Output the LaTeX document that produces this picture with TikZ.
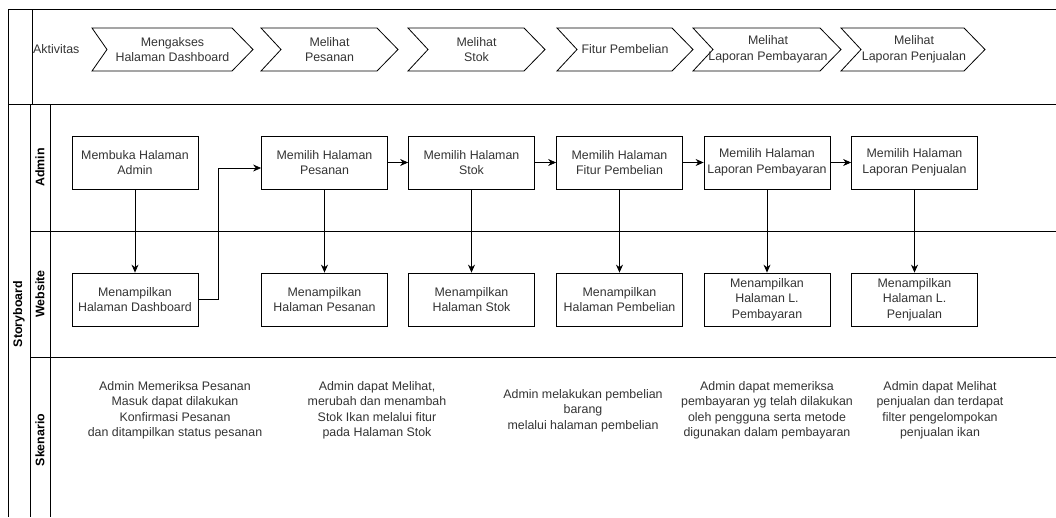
\documentclass[tikz,border=0pt]{standalone}
\usepackage{fontspec}
\setmainfont{Liberation Sans}
\usepackage{tikz}
\usetikzlibrary{arrows.meta,positioning,calc}
\newcommand{\diafont}{\fontsize{12.4}{15.5}\selectfont}
\tikzset{stepbox/.style={draw=black, line width=0.8pt, minimum width=126pt, minimum height=53pt, inner sep=0pt, align=center, text=black!80, font=\diafont},
%text inside the chevrons and the scenario lines
plaintext/.style={align=center, inner sep=0pt, text=black!80, font=\diafont},
lanelabel/.style={rotate=90, inner sep=0pt, font=\diafont\bfseries},
chevron/.style={draw=black, line width=0.8pt, line join=miter}}

\begin{document}
\begin{tikzpicture}[x=1pt,y=-1pt, >={Stealth[length=8pt,width=7pt]}]
  \useasboundingbox (0,0) rectangle (1056,517);

  % frame and lanes
  \draw[line width=0.8pt] (1056,9) -- (8,9) -- (8,517);
  \draw[line width=0.8pt] (8,104) -- (1056,104);
  \draw[line width=0.8pt] (32,9) -- (32,104);
  \draw[line width=0.8pt] (30,104) -- (30,517);
  \draw[line width=0.8pt] (50,104) -- (50,517);
  \draw[line width=0.8pt] (30,231) -- (1056,231);
  \draw[line width=0.8pt] (30,357) -- (1056,357);

  \node[plaintext, anchor=west] (akt) at (33,49.5) {Aktivitas};
  \node[lanelabel] (sb) at (19,314) {Storyboard};
  \node[lanelabel] (ladmin) at (40,167.5) {Admin};
  \node[lanelabel] (lweb) at (40,294) {Website};
  \node[lanelabel] (lsken) at (40,440) {Skenario};

  % aktivitas
  \draw[chevron] (92,28) -- (232,28) -- (253,49.5) -- (232,71) -- (92,71) -- (107,49.5) -- cycle;
  \node[plaintext] (act1) at (172.5,49.5) {Mengakses\\Halaman Dashboard};

  \draw[chevron] (261,28) -- (377,28) -- (398,49.5) -- (377,71) -- (261,71) -- (281,49.5) -- cycle;
  \node[plaintext] (act2) at (329.5,49.5) {Melihat\\Pesanan};

  \draw[chevron] (408,28) -- (524,28) -- (545,49.5) -- (524,71) -- (408,71) -- (428,49.5) -- cycle;
  \node[plaintext] (act3) at (476.5,49.5) {Melihat\\Stok};

  \draw[chevron] (557,28) -- (672,28) -- (693,49.5) -- (672,71) -- (557,71) -- (577,49.5) -- cycle;
  \node[plaintext] (act4) at (625,49.5) {Fitur Pembelian};

  \draw[chevron] (693,28) -- (820,28) -- (841,49.5) -- (820,71) -- (693,71) -- (713,49.5) -- cycle;
  \node[plaintext] (act5) at (768,49.5) {Melihat\\Laporan Pembayaran};

  \draw[chevron] (841,28) -- (964,28) -- (985,49.5) -- (964,71) -- (841,71) -- (861,49.5) -- cycle;
  \node[plaintext] (act6) at (914,49.5) {Melihat\\Laporan Penjualan};

  % admin
  \node[stepbox] (adm1) at (135,162.5) {Membuka Halaman\\Admin};
  \node[stepbox] (adm2) at (324.5,162.5) {Memilih Halaman\\Pesanan};
  \node[stepbox] (adm3) at (471.5,162.5) {Memilih Halaman\\Stok};
  \node[stepbox] (adm4) at (619.5,162.5) {Memilih Halaman\\Fitur Pembelian};
  \node[stepbox] (adm5) at (767,162.5) {Memilih Halaman\\Laporan Pembayaran};
  \node[stepbox] (adm6) at (914.5,162.5) {Memilih Halaman\\Laporan Penjualan};

  % website
  \node[stepbox] (web1) at (135,299.5) {Menampilkan\\Halaman Dashboard};
  \node[stepbox] (web2) at (324.5,299.5) {Menampilkan\\Halaman Pesanan};
  \node[stepbox] (web3) at (471.5,299.5) {Menampilkan\\Halaman Stok};
  \node[stepbox] (web4) at (619.5,299.5) {Menampilkan\\Halaman Pembelian};
  \node[stepbox] (web5) at (767,299.5) {Menampilkan\\Halaman L.\\Pembayaran};
  \node[stepbox] (web6) at (914.5,299.5) {Menampilkan\\Halaman L.\\Penjualan};

  \draw[->, line width=0.8pt] (adm1) -- (web1);
  \draw[->, line width=0.8pt] (adm2) -- (web2);
  \draw[->, line width=0.8pt] (adm3) -- (web3);
  \draw[->, line width=0.8pt] (adm4) -- (web4);
  \draw[->, line width=0.8pt] (adm5) -- (web5);
  \draw[->, line width=0.8pt] (adm6) -- (web6);

  \coordinate (bend) at (218,168);
  \draw[->, line width=0.8pt] (web1.east) -| (bend) -- (bend -| adm2.west);

  \draw[->, line width=0.8pt] (adm2) -- (adm3);
  \draw[->, line width=0.8pt] (adm3) -- (adm4);
  \draw[->, line width=0.8pt] (adm4) -- (adm5);
  \draw[->, line width=0.8pt] (adm5) -- (adm6);

  % skenario
  \node[plaintext] (sk1) at (175,410.5) {Admin Memeriksa Pesanan\\Masuk dapat dilakukan\\Konfirmasi Pesanan\\dan ditampilkan status pesanan};
  \node[plaintext] (sk2) at (377,410.5) {Admin dapat Melihat,\\merubah dan menambah\\Stok Ikan melalui fitur\\pada Halaman Stok};
  \node[plaintext] (sk3) at (583,410.5) {Admin melakukan pembelian\\barang\\melalui halaman pembelian};
  \node[plaintext] (sk4) at (767,410.5) {Admin dapat memeriksa\\pembayaran yg telah dilakukan\\oleh pengguna serta metode\\digunakan dalam pembayaran};
  \node[plaintext] (sk5) at (940,410.5) {Admin dapat Melihat\\penjualan dan terdapat\\filter pengelompokan\\penjualan ikan};
\end{tikzpicture}
\end{document}
